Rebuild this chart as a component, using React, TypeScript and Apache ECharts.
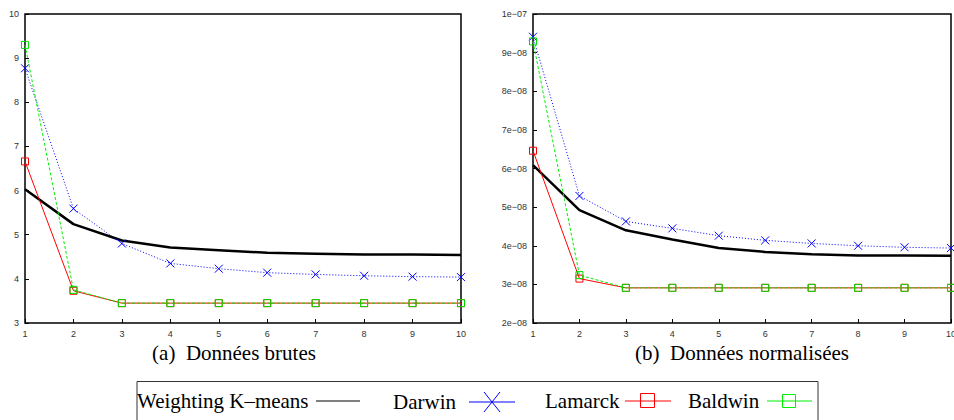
import React, { useEffect, useRef } from "react";
import * as echarts from "echarts";

const xValues = [1, 2, 3, 4, 5, 6, 7, 8, 9, 10];

// (a) Données brutes
const kmeansRaw = [6.03, 5.24, 4.87, 4.71, 4.65, 4.59, 4.57, 4.55, 4.55, 4.54];
const darwinRaw = [8.77, 5.59, 4.8, 4.35, 4.23, 4.14, 4.1, 4.07, 4.05, 4.04];
const lamarckRaw = [6.66, 3.73, 3.45, 3.45, 3.45, 3.45, 3.45, 3.45, 3.45, 3.45];
const baldwinRaw = [9.3, 3.75, 3.45, 3.45, 3.45, 3.45, 3.45, 3.45, 3.45, 3.45];

// (b) Données normalisées
const kmeansNorm = [6.09e-8, 4.92e-8, 4.4e-8, 4.16e-8, 3.94e-8, 3.84e-8, 3.78e-8, 3.75e-8, 3.75e-8, 3.74e-8];
const darwinNorm = [9.41e-8, 5.29e-8, 4.63e-8, 4.45e-8, 4.26e-8, 4.14e-8, 4.06e-8, 4.0e-8, 3.96e-8, 3.94e-8];
const lamarckNorm = [6.46e-8, 3.15e-8, 2.91e-8, 2.91e-8, 2.91e-8, 2.91e-8, 2.91e-8, 2.91e-8, 2.91e-8, 2.91e-8];
const baldwinNorm = [9.29e-8, 3.24e-8, 2.91e-8, 2.91e-8, 2.91e-8, 2.91e-8, 2.91e-8, 2.91e-8, 2.91e-8, 2.91e-8];

const captions = ["(a)  Données brutes", "(b)  Données normalisées"];
const legendNames = ["Weighting K\u2013means", "Darwin", "Lamarck", "Baldwin"];

const X_SYMBOL = "path://M0 0L10 10M10 0L0 10";
const SANS = "Liberation Sans";
const SERIF = "Liberation Serif";

function pairs(ys: number[]) {
  return xValues.map((x, i) => [x, ys[i]]);
}

function seriesFor(idx: number, k: number[], d: number[], l: number[], b: number[]) {
  return [
    {
      name: legendNames[0], type: "line", xAxisIndex: idx, yAxisIndex: idx,
      data: pairs(k), showSymbol: false, symbol: "none",
      lineStyle: { color: "#000", width: 2.5 }, z: 2,
    },
    {
      name: legendNames[1], type: "line", xAxisIndex: idx, yAxisIndex: idx,
      data: pairs(d), symbol: X_SYMBOL, symbolSize: 8,
      itemStyle: { color: "rgba(0,0,0,0)", borderColor: "#0000ff", borderWidth: 1 },
      lineStyle: { color: "#0000ff", width: 1, type: [1, 2] }, z: 3,
    },
    {
      name: legendNames[2], type: "line", xAxisIndex: idx, yAxisIndex: idx,
      data: pairs(l), symbol: "rect", symbolSize: 7,
      itemStyle: { color: "rgba(0,0,0,0)", borderColor: "#ff0000", borderWidth: 1 },
      lineStyle: { color: "#ff0000", width: 1 }, z: 3,
    },
    {
      name: legendNames[3], type: "line", xAxisIndex: idx, yAxisIndex: idx,
      data: pairs(b), symbol: "rect", symbolSize: 7,
      itemStyle: { color: "rgba(0,0,0,0)", borderColor: "#00dd00", borderWidth: 1 },
      lineStyle: { color: "#00ee00", width: 1, type: [3, 2] }, z: 4,
    },
  ];
}

const axisLabelStyle = { fontFamily: SANS, fontSize: 9, color: "#333" };
const FONT = `21px "${SERIF}"`;

export default function App() {
  const ref = useRef<HTMLDivElement>(null);
  useEffect(() => {
    if (!ref.current) return;
    const chart = echarts.init(ref.current, undefined, { renderer: "svg" });
    const xAxisBase = {
      type: "value", min: 1, max: 10, interval: 1,
      axisLine: { show: false },
      axisTick: { show: true, inside: true, length: 4, lineStyle: { color: "#000" } },
      splitLine: { show: false },
      axisLabel: { ...axisLabelStyle, margin: 6 },
    };
    const yAxisBase = {
      type: "value",
      axisLine: { show: false },
      axisTick: { show: true, inside: true, length: 4, lineStyle: { color: "#000" } },
      splitLine: { show: false },
    };
    chart.setOption({
      animation: false,
      backgroundColor: "#fff",
      grid: [
        { left: 25, top: 14, width: 436, height: 309, show: true, borderColor: "#000", borderWidth: 1.5, backgroundColor: "transparent", containLabel: false, outerBoundsMode: "none" },
        { left: 533, top: 14, width: 418, height: 309, show: true, borderColor: "#000", borderWidth: 1.5, backgroundColor: "transparent", containLabel: false, outerBoundsMode: "none" },
      ],
      xAxis: [
        { ...xAxisBase, gridIndex: 0 },
        { ...xAxisBase, gridIndex: 1 },
      ],
      yAxis: [
        { ...yAxisBase, gridIndex: 0, min: 3, max: 10, interval: 1, axisLabel: { ...axisLabelStyle, margin: 6 } },
        {
          ...yAxisBase, gridIndex: 1, min: 2e-8, max: 1e-7, interval: 1e-8,
          axisLabel: {
            ...axisLabelStyle, margin: 6,
            formatter: (v: number) => {
              const n = Math.round(v * 1e8);
              return n >= 10 ? "1e\u221207" : n + "e\u221208";
            },
          },
        },
      ],
      series: [
        ...seriesFor(0, kmeansRaw, darwinRaw, lamarckRaw, baldwinRaw),
        ...seriesFor(1, kmeansNorm, darwinNorm, lamarckNorm, baldwinNorm),
      ],
      graphic: [
        { type: "text", x: 234, y: 353, style: { text: captions[0], font: FONT, fill: "#000", textAlign: "center", textVerticalAlign: "middle" } },
        { type: "text", x: 742, y: 353, style: { text: captions[1], font: FONT, fill: "#000", textAlign: "center", textVerticalAlign: "middle" } },
        { type: "rect", shape: { x: 137, y: 381.5, width: 681, height: 60 }, style: { fill: "none", stroke: "#333", lineWidth: 1 } },
        { type: "text", x: 137, y: 401, style: { text: legendNames[0], font: FONT, fill: "#000", textAlign: "left", textVerticalAlign: "middle" } },
        { type: "line", shape: { x1: 316, y1: 401, x2: 360, y2: 401 }, style: { stroke: "#555", lineWidth: 1.5 } },
        { type: "text", x: 393, y: 402, style: { text: legendNames[1], font: FONT, fill: "#000", textAlign: "left", textVerticalAlign: "middle" } },
        { type: "line", shape: { x1: 469, y1: 402, x2: 515, y2: 402 }, style: { stroke: "#0000ff", lineWidth: 1 } },
        { type: "line", shape: { x1: 484, y1: 392, x2: 500, y2: 412 }, style: { stroke: "#0000ff", lineWidth: 1 } },
        { type: "line", shape: { x1: 500, y1: 392, x2: 484, y2: 412 }, style: { stroke: "#0000ff", lineWidth: 1 } },
        { type: "text", x: 545, y: 401, style: { text: legendNames[2], font: FONT, fill: "#000", textAlign: "left", textVerticalAlign: "middle" } },
        { type: "line", shape: { x1: 625, y1: 401, x2: 671, y2: 401 }, style: { stroke: "#ff0000", lineWidth: 1 } },
        { type: "rect", shape: { x: 640.5, y: 393.5, width: 14, height: 14 }, style: { fill: "none", stroke: "#ff0000", lineWidth: 1 } },
        { type: "text", x: 688, y: 401, style: { text: legendNames[3], font: FONT, fill: "#000", textAlign: "left", textVerticalAlign: "middle" } },
        { type: "line", shape: { x1: 767, y1: 401, x2: 812, y2: 401 }, style: { stroke: "#00ee00", lineWidth: 1 } },
        { type: "rect", shape: { x: 782.5, y: 394.5, width: 13, height: 13 }, style: { fill: "none", stroke: "#00ee00", lineWidth: 1 } },
      ],
    });
    return () => chart.dispose();
  }, []);
  return (
    <div
      ref={ref}
      style={{ position: "absolute", left: 0, top: 0, width: 954, height: 420, overflow: "hidden" }}
    />
  );
}
